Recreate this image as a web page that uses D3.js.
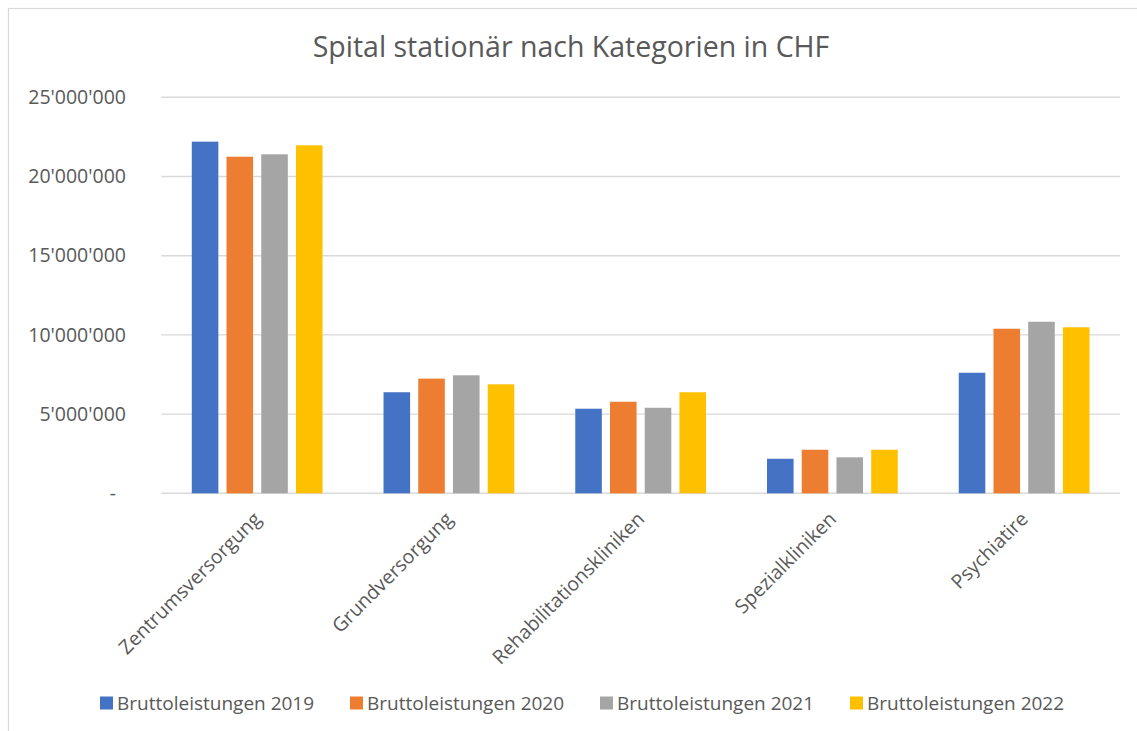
<!DOCTYPE html>
<html>
<head>
<meta charset="utf-8">
<script src="https://cdn.jsdelivr.net/npm/d3@7"></script>
<style>
  html, body { margin: 0; padding: 0; background: #fff; }
  svg { display: block; font-family: "Open Sans", "Noto Sans", sans-serif; }
</style>
</head>
<body>
<svg id="chart" width="1137" height="731"></svg>
<script>
const title = "Spital stationär nach Kategorien in CHF";
const categories = ["Zentrumsversorgung", "Grundversorgung", "Rehabilitationskliniken", "Spezialkliniken", "Psychiatire"];
const seriesNames = ["Bruttoleistungen 2019", "Bruttoleistungen 2020", "Bruttoleistungen 2021", "Bruttoleistungen 2022"];
const values2019 = [22200000, 6380000, 5340000, 2180000, 7610000];
const values2020 = [21250000, 7240000, 5780000, 2750000, 10390000];
const values2021 = [21400000, 7450000, 5400000, 2270000, 10830000];
const values2022 = [21970000, 6880000, 6380000, 2750000, 10480000];
const yTicks = [0, 5000000, 10000000, 15000000, 20000000, 25000000];
const colors = ["#4472C4", "#ED7D31", "#A5A5A5", "#FFC000"];

const series = [values2019, values2020, values2021, values2022];
const svg = d3.select("#chart");
const textColor = "#595959";
const gridColor = "#D9D9D9";

// chart area border
svg.append("rect")
  .attr("x", 8.5).attr("y", 8.5)
  .attr("width", 1140).attr("height", 740)
  .attr("fill", "none").attr("stroke", gridColor).attr("stroke-width", 1.2);

const plot = { left: 161.3, right: 1120, top: 97.3, bottom: 493.3 };

const x0 = d3.scaleBand().domain(categories).range([plot.left, plot.right])
  .paddingInner(0.318).paddingOuter(0.159);
const x1 = d3.scaleBand().domain(d3.range(series.length)).range([0, x0.bandwidth()])
  .paddingInner(0.235).paddingOuter(0);
const y = d3.scaleLinear().domain([0, 25000000]).range([plot.bottom, plot.top]);

const locale = d3.formatLocale({ decimal: ".", thousands: "'", grouping: [3], currency: ["", ""] });
const fmt = locale.format(",");

// gridlines
svg.append("g").selectAll("line").data(yTicks).join("line")
  .attr("x1", plot.left).attr("x2", plot.right)
  .attr("y1", d => y(d)).attr("y2", d => y(d))
  .attr("stroke", gridColor).attr("stroke-width", 1.4);

// y axis
const yAxis = d3.axisLeft(y).tickValues(yTicks).tickSize(0).tickPadding(0)
  .tickFormat(d => d === 0 ? "-" : fmt(d));
const gy = svg.append("g").attr("transform", `translate(126,0)`).call(yAxis);
gy.select(".domain").remove();
gy.selectAll("text").attr("fill", textColor).attr("font-size", 19.5)
  .attr("font-family", '"Open Sans", sans-serif')
  .attr("dx", d => d === 0 ? -10 : 0);

// bars
const groups = svg.append("g").selectAll("g").data(categories).join("g")
  .attr("transform", c => `translate(${x0(c)},0)`);
groups.selectAll("rect").data((c, ci) => series.map((s, si) => ({ si, v: s[ci] }))).join("rect")
  .attr("x", d => x1(d.si))
  .attr("width", x1.bandwidth())
  .attr("y", d => y(d.v))
  .attr("height", d => y(0) - y(d.v))
  .attr("fill", d => colors[d.si]);

// x axis labels
const xAxis = d3.axisBottom(x0).tickSize(0).tickPadding(0);
const gx = svg.append("g").attr("transform", `translate(0,${plot.bottom})`).call(xAxis);
gx.select(".domain").remove();
gx.selectAll("text")
  .attr("fill", textColor).attr("font-size", 19.5)
  .attr("font-family", '"Open Sans", sans-serif')
  .attr("text-anchor", "end")
  .attr("dy", null)
  .attr("y", null)
  .attr("transform", "translate(5,27) rotate(-45)");

// title
svg.append("text").attr("x", 571).attr("y", 57)
  .attr("text-anchor", "middle").attr("fill", textColor)
  .attr("font-size", 28.5).text(title);

// legend
const legendX = d3.scaleLinear().domain([0, 1]).range([100, 350]);
const leg = svg.append("g").selectAll("g").data(seriesNames).join("g")
  .attr("transform", (d, i) => `translate(${legendX(i)},703)`);
leg.append("rect").attr("x", 0).attr("y", -6.5).attr("width", 13).attr("height", 13)
  .attr("fill", (d, i) => colors[i]);
leg.append("text").attr("x", 17).attr("y", 0).attr("dy", "0.35em")
  .attr("fill", textColor).attr("font-size", 19).text(d => d);
</script>
</body>
</html>
